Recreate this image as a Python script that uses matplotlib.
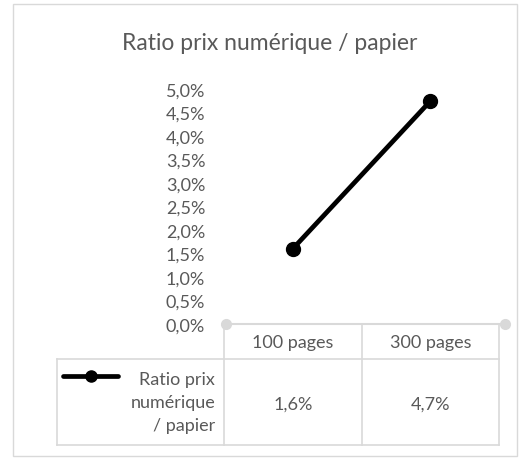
import matplotlib.pyplot as plt
from matplotlib.patches import Rectangle

plt.rcParams['font.family'] = ['Lato', 'DejaVu Sans']

# data
categories = ['100 pages', '300 pages']
ratio = [1.6, 4.74]
series_name = 'Ratio prix\nnumérique\n/ papier'
title = 'Ratio prix numérique / papier'

grey = '#d9d9d9'
txt = '#595959'
W, H = 528, 460
fs = 13

fig = plt.figure(figsize=(W / 100, H / 100), dpi=100)
fig.patches.append(Rectangle((13 / W, 3 / H), 504 / W, 452 / H, transform=fig.transFigure,
                             fill=False, edgecolor=grey, linewidth=1))

def px(x0, y0, x1, y1):
    return [x0 / W, 1 - y1 / H, (x1 - x0) / W, (y1 - y0) / H]

ax = fig.add_axes(px(224, 90, 505, 325))
xpos = [i + 0.5 for i in range(len(categories))]
ax.plot(xpos, ratio, color='black', linewidth=3.4, marker='o', markersize=10, solid_capstyle='round')
ax.set_xlim(0, 281 / 137.5)
ax.set_ylim(0, 5)
ax.set_yticks([i * 0.5 for i in range(11)])
ax.set_yticklabels([f'{v:.1f}%'.replace('.', ',') for v in ax.get_yticks()])
ax.tick_params(axis='y', length=0, pad=13.5, labelsize=fs, labelcolor=txt)
ax.tick_params(axis='x', length=0, labelbottom=False)
for s in ax.spines.values():
    s.set_visible(False)
ax.plot([0.015, 2.04], [0, 0], color=grey, linewidth=1.5, marker='o', markersize=7, clip_on=False, zorder=1)

fig.suptitle(title, x=270 / W, y=1 - 44 / H, va='center', fontsize=16.5, color=txt)

# data table below the plot
tab = fig.add_axes(px(224, 325, 505, 446), sharex=ax)
tab.set_ylim(121, 0)
tab.axis('off')
lw = 1.2
kw = dict(color=grey, linewidth=lw, clip_on=False)
for xb in range(len(categories) + 1):
    tab.plot([xb, xb], [0, 121], **kw)
left = -167 / 137.5
tab.plot([left, left], [35, 121], **kw)
tab.plot([0, len(categories)], [0, 0], **kw)
tab.plot([left, len(categories)], [35, 35], **kw)
tab.plot([left, len(categories)], [121, 121], **kw)
for x, c, v in zip(xpos, categories, ratio):
    tab.text(x, 18, c, ha='center', va='center', fontsize=fs, color=txt)
    tab.text(x, 80, f'{v:.1f}%'.replace('.', ','), ha='center', va='center', fontsize=fs, color=txt)
tab.text(-9 / 137.5, 78, series_name, ha='right', va='center', fontsize=fs, color=txt,
         multialignment='right', linespacing=1.55)
tab.plot([-161 / 137.5, -106 / 137.5], [52, 52], color='black', linewidth=3.4, clip_on=False,
         solid_capstyle='round')
tab.plot([-133 / 137.5], [52], color='black', marker='o', markersize=8, clip_on=False)

fig.savefig('out.png', dpi=100)
